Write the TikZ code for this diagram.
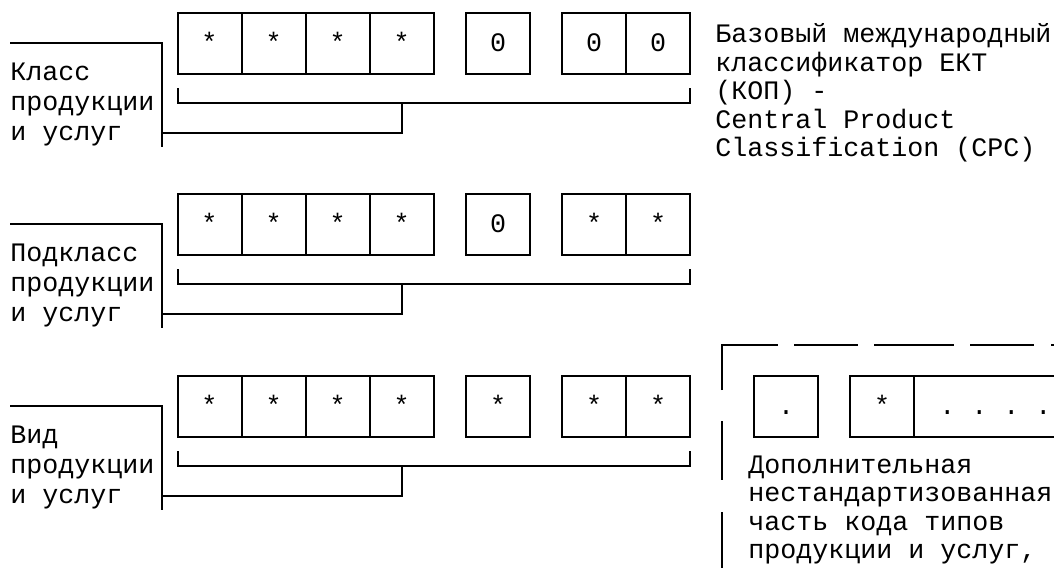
\documentclass[tikz,border=0pt]{standalone}
\usepackage{fontspec}
\newfontfamily\monofnt{Liberation Mono}
\frenchspacing
\begin{document}
\begin{tikzpicture}[x=0.75pt,y=-0.75pt,
  ln/.style={line width=1.5pt},
  cell/.style={draw, line width=1.5pt, minimum width=48pt, minimum height=45.75pt,
    inner sep=0pt, text height=11.25pt, text depth=0pt,
    font=\monofnt\fontsize{20}{24}\selectfont},
  txt/.style={inner sep=0pt, anchor=base west, font=\monofnt\fontsize{20}{24}\selectfont\frenchspacing}]
\useasboundingbox (0,0) rectangle (1054,568);
\fill[white] (0,0) rectangle (1054,568);

\foreach \r/\T/\s/\p/\q/\lab in {1/13/0/0/0/Класс, 2/194/0/*/*/Подкласс, 3/376/*/*/*/Вид}{
  \pgfmathsetmacro\C{\T+30.5}
  % code cells
  \node[cell] (a\r1) at (209.5,\C) {*};
  \node[cell] (a\r2) at (273.5,\C) {*};
  \node[cell] (a\r3) at (337.5,\C) {*};
  \node[cell] (a\r4) at (401.5,\C) {*};
  \node[cell] (s\r)  at (498,\C) {\s};
  \node[cell] (b\r1) at (594,\C) {\p};
  \node[cell] (b\r2) at (658,\C) {\q};
  % labels
  \node[txt] (ta\r) at (10,\T+67.5) {\lab};
  \node[txt] (tb\r) at (10,\T+97.5) {продукции};
  \node[txt] (tc\r) at (10,\T+127.5) {и услуг};
  % connectors
  \coordinate (L\r) at (10,\T+30);
  \coordinate (V\r) at (162,\T+134);
  \coordinate (BL\r) at (177.5,\T+75);
  \coordinate (BR\r) at (690,\T+75);
  \coordinate (S\r) at (402,\T+90);
  \coordinate (J\r) at (162,\T+120);
  \draw[ln] (L\r) -| (V\r);
  \draw[ln] (BL\r) -- ++(0,15) -| (BR\r);
  \draw[ln] (S\r) |- (J\r);
}

% top right description
\node[txt] (d1) at (715,42.7) {Базовый международный};
\node[txt] (d2) at (715,71.2) {классификатор ЕКТ};
\node[txt] (d3) at (715,99.7) {(КОП) -};
\node[txt] (d4) at (715,128.2) {Central Product};
\node[txt] (d5) at (715,156.7) {Classification (CPC)};

% additional part (row 3)
\draw[ln] (722,390) -- (722,345) -- (778,345);
\draw[ln] (794,345) -- (858,345);
\draw[ln] (874,345) -- (954,345);
\draw[ln] (970,345) -- (1034,345);
\draw[ln] (1051,345) -- (1070,345);
\draw[ln] (722,421) -- (722,480);
\draw[ln] (722,512) -- (722,580);

\node[cell] (x1) at (786,406.5) {.};
\node[cell] (x2) at (882,406.5) {*};
\node[cell, minimum width=121.5pt] (x3) at (995,406.5) {};
\node[txt] (x3t) at (939,414) {. . . .};

\node[txt] (e1) at (748,473) {Дополнительная};
\node[txt] (e2) at (748,501.5) {нестандартизованная};
\node[txt] (e3) at (748,530) {часть кода типов};
\node[txt] (e4) at (748,558.5) {продукции и услуг,};
\end{tikzpicture}
\end{document}
